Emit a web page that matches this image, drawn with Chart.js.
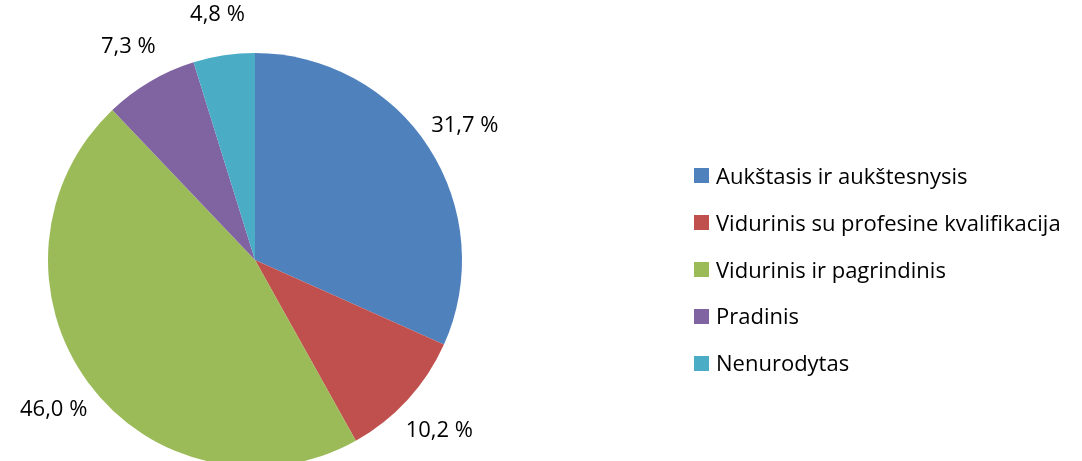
<!DOCTYPE html>
<html>
<head>
<meta charset="utf-8">
<script src="https://cdn.jsdelivr.net/npm/chart.js@4"></script>
<style>
  html, body { margin: 0; padding: 0; background: #fff; overflow: hidden; }
  #wrap { position: relative; width: 1082px; height: 461px; overflow: hidden; }
  #chart { position: absolute; left: 0; top: 0; }
  #legend { position: absolute; left: 694px; top: 152px; font-family: "Open Sans", sans-serif; font-size: 22px; color: #000; }
  .item { height: 46.8px; line-height: 46.8px; display: flex; align-items: center; white-space: nowrap; }
  .box { width: 15px; height: 15px; margin-right: 7px; margin-top: 1px; }
</style>
</head>
<body>
<div id="wrap">
  <canvas id="chart" width="1082" height="480"></canvas>
  <div id="legend"></div>
</div>
<script>
const categories = [
  "Aukštasis ir aukštesnysis",
  "Vidurinis su profesine kvalifikacija",
  "Vidurinis ir pagrindinis",
  "Pradinis",
  "Nenurodytas",
];
const shares = [31.7, 10.2, 46.0, 7.3, 4.8];
const colors = ["#4F81BD", "#C0504D", "#9BBB59", "#8064A2", "#4BACC6"];

// legend as html
const legend = document.getElementById("legend");
categories.forEach((name, i) => {
  const row = document.createElement("div");
  row.className = "item";
  row.innerHTML = `<span class="box" style="background:${colors[i]}"></span><span>${name}</span>`;
  legend.appendChild(row);
});

// percent labels outside the slices
const outsideLabels = {
  id: "outsideLabels",
  afterDatasetsDraw(chart) {
    const ctx = chart.ctx;
    const meta = chart.getDatasetMeta(0);
    ctx.save();
    ctx.font = "22px 'Open Sans', sans-serif";
    ctx.fillStyle = "#000";
    ctx.textAlign = "center";
    ctx.textBaseline = "middle";
    meta.data.forEach((arc, i) => {
      const mid = (arc.startAngle + arc.endAngle) / 2;
      const dist = arc.outerRadius + 43;
      const x = arc.x + Math.cos(mid) * dist;
      const y = arc.y + Math.sin(mid) * dist + 2;
      const txt = shares[i].toFixed(1).replace(".", ",") + " %";
      ctx.fillText(txt, x, y);
    });
    ctx.restore();
  },
};

new Chart(document.getElementById("chart"), {
  type: "pie",
  data: {
    labels: categories,
    datasets: [
      {
        data: shares,
        backgroundColor: colors,
        borderWidth: 0,
      },
    ],
  },
  options: {
    responsive: false,
    animation: false,
    layout: { padding: { left: 48, top: 53, right: 620, bottom: 13 } },
    plugins: {
      legend: { display: false },
      tooltip: { enabled: false },
    },
  },
  plugins: [outsideLabels],
});
</script>
</body>
</html>
